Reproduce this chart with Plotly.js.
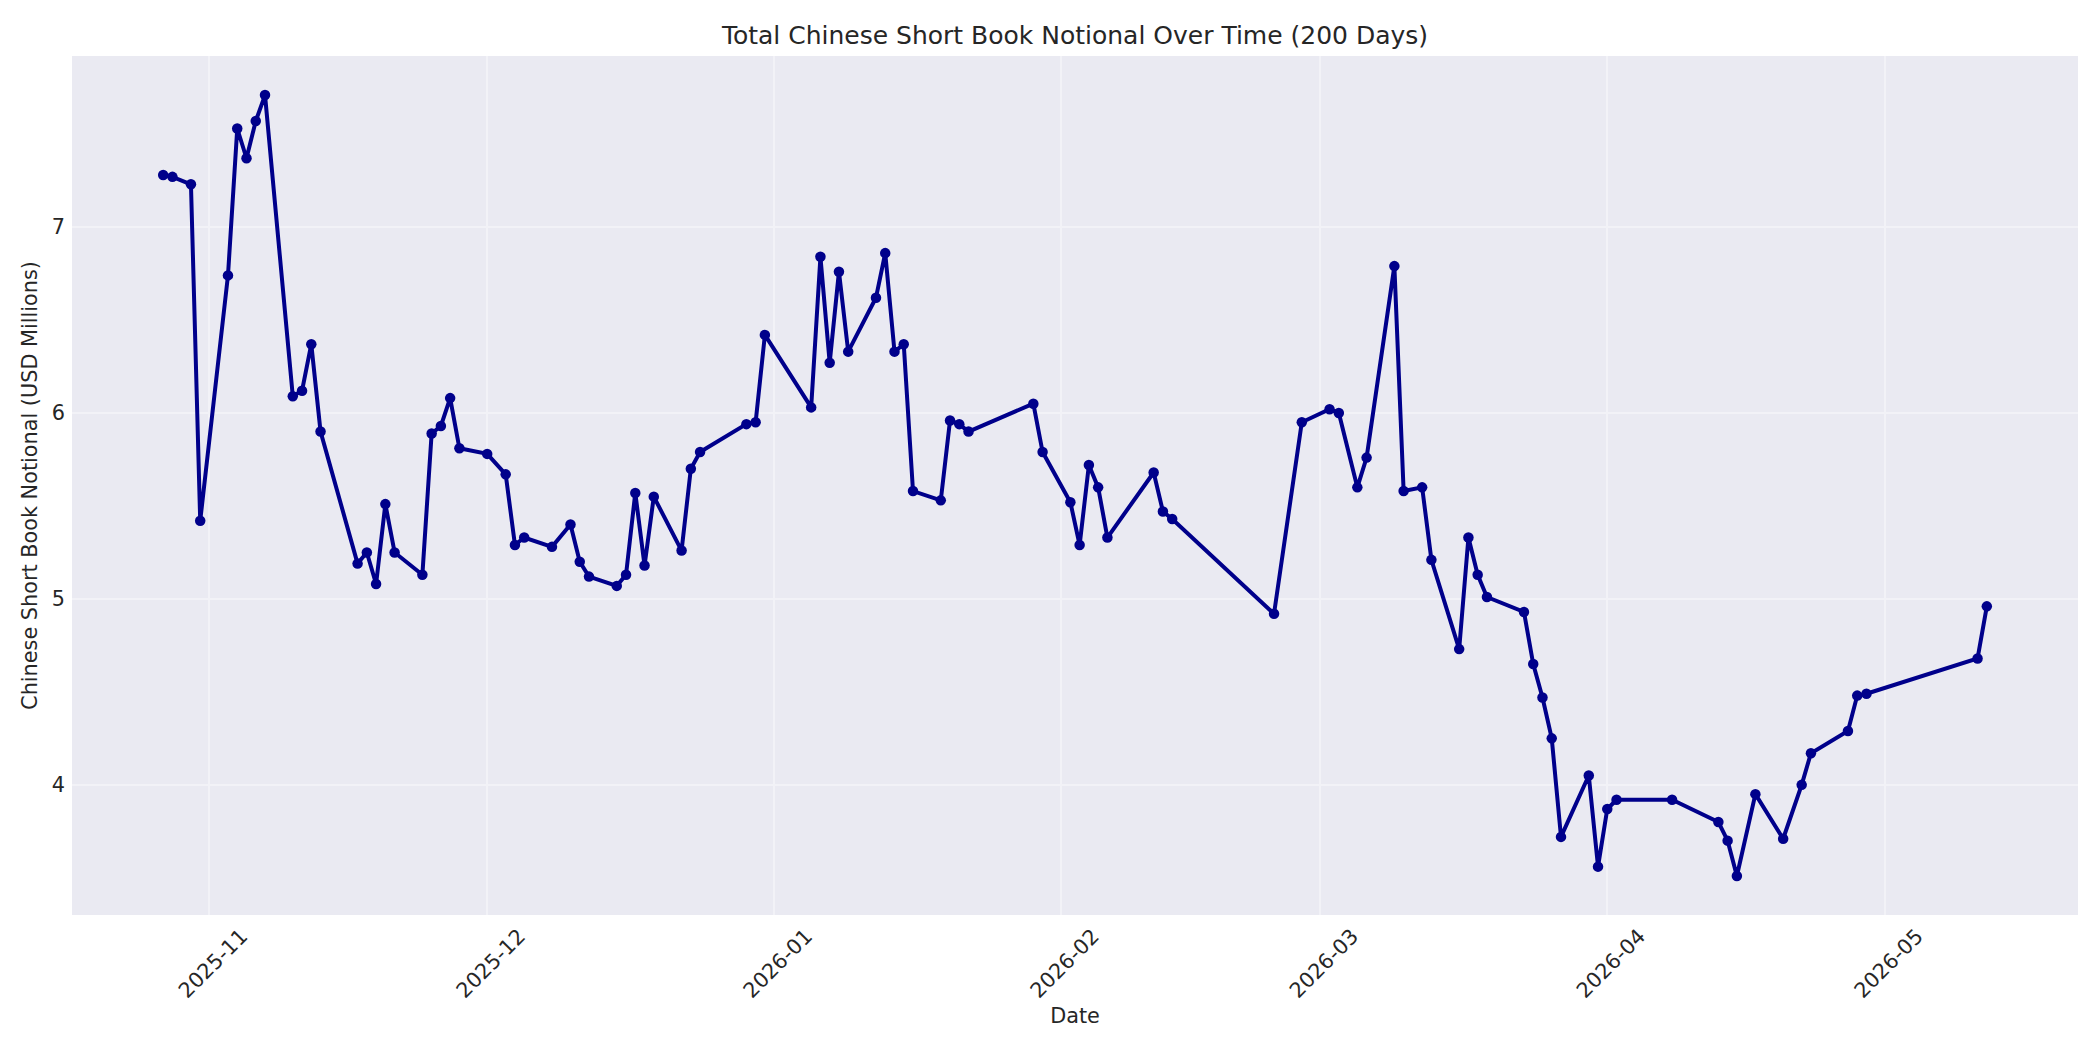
<!DOCTYPE html>
<html>
<head>
<meta charset="utf-8">
<script src="https://cdn.plot.ly/plotly-3.0.1.min.js"></script>
<style>html,body{margin:0;padding:0;background:#fff;}#chart{width:2100px;height:1050px;}</style>
</head>
<body>
<div id="chart"></div>
<script>
const dates = [
'2025-10-27','2025-10-28','2025-10-30','2025-10-31','2025-11-03','2025-11-04','2025-11-05','2025-11-06','2025-11-07',
'2025-11-10','2025-11-11','2025-11-12','2025-11-13','2025-11-17','2025-11-18','2025-11-19','2025-11-20','2025-11-21',
'2025-11-24','2025-11-25','2025-11-26','2025-11-27','2025-11-28','2025-12-01','2025-12-03','2025-12-04','2025-12-05',
'2025-12-08','2025-12-10','2025-12-11','2025-12-12','2025-12-15','2025-12-16','2025-12-17','2025-12-18','2025-12-19',
'2025-12-22','2025-12-23','2025-12-24','2025-12-29','2025-12-30','2025-12-31','2026-01-05','2026-01-06','2026-01-07',
'2026-01-08','2026-01-09','2026-01-12','2026-01-13','2026-01-14','2026-01-15','2026-01-16','2026-01-19','2026-01-20',
'2026-01-21','2026-01-22','2026-01-29','2026-01-30','2026-02-02','2026-02-03','2026-02-04','2026-02-05','2026-02-06',
'2026-02-11','2026-02-12','2026-02-13','2026-02-24','2026-02-27','2026-03-02','2026-03-03','2026-03-05','2026-03-06',
'2026-03-09','2026-03-10','2026-03-12','2026-03-13','2026-03-16','2026-03-17','2026-03-18','2026-03-19','2026-03-23',
'2026-03-24','2026-03-25','2026-03-26','2026-03-27','2026-03-30','2026-03-31','2026-04-01','2026-04-02','2026-04-08',
'2026-04-13','2026-04-14','2026-04-15','2026-04-17','2026-04-20','2026-04-22','2026-04-23','2026-04-27','2026-04-28',
'2026-04-29','2026-05-11','2026-05-12'
];
const notional = [
7.28,7.27,7.23,5.42,6.74,7.53,7.37,7.57,7.71,
6.09,6.12,6.37,5.90,5.19,5.25,5.08,5.51,5.25,
5.13,5.89,5.93,6.08,5.81,5.78,5.67,5.29,5.33,
5.28,5.40,5.20,5.12,5.07,5.13,5.57,5.18,5.55,
5.26,5.70,5.79,5.94,5.95,6.42,6.03,6.84,6.27,
6.76,6.33,6.62,6.86,6.33,6.37,5.58,5.53,5.96,
5.94,5.90,6.05,5.79,5.52,5.29,5.72,5.60,5.33,
5.68,5.47,5.43,4.92,5.95,6.02,6.00,5.60,5.76,
6.79,5.58,5.60,5.21,4.73,5.33,5.13,5.01,4.93,
4.65,4.47,4.25,3.72,4.05,3.56,3.87,3.92,3.92,
3.80,3.70,3.51,3.95,3.71,4.00,4.17,4.29,4.48,
4.49,4.68,4.96
];
const xTickVals = ['2025-11-01','2025-12-01','2026-01-01','2026-02-01','2026-03-01','2026-04-01','2026-05-01'];
const xTickText = ['2025-11','2025-12','2026-01','2026-02','2026-03','2026-04','2026-05'];
const yTickVals = [4,5,6,7];

const titleText = 'Total Chinese Short Book Notional Over Time (200 Days)';
const xTitle = 'Date';
const yTitle = 'Chinese Short Book Notional (USD Millions)';

const txt = '#262626';
const grid = '#F2F2F7';
const font = 'DejaVu Sans, Verdana, sans-serif';

const trace = {
  x: dates, y: notional, type: 'scatter', mode: 'lines+markers',
  line: {color: '#00008B', width: 4},
  marker: {color: '#00008B', size: 10.5},
  hoverinfo: 'skip'
};

const layout = {
  width: 2100, height: 1050,
  margin: {l: 72, r: 22, t: 56, b: 135, pad: 0},
  paper_bgcolor: '#FFFFFF', plot_bgcolor: '#EAEAF2',
  font: {family: font, color: txt, size: 20.8},
  showlegend: false,
  title: {text: titleText, font: {family: font, size: 25, color: txt}, x: 0.5, xref: 'paper', xanchor: 'center', y: 1 - 35/1050, yref: 'container', yanchor: 'middle'},
  xaxis: {
    type: 'date', range: ['2025-10-17 03:36', '2026-05-21 20:24'],
    tickmode: 'array', tickvals: xTickVals, ticktext: xTickText,
    tickangle: -45, ticklabelshift: 32, ticklabelstandoff: 4,
    ticks: '', showline: false, zeroline: false,
    showgrid: true, gridcolor: grid, gridwidth: 2,
    tickfont: {family: font, size: 20.8, color: txt},
    title: {text: xTitle, font: {family: font, size: 20.8, color: txt}, standoff: 6},
    automargin: false, fixedrange: true
  },
  yaxis: {
    range: [3.30, 7.92], tickmode: 'array', tickvals: yTickVals,
    ticks: '', showline: false, zeroline: false,
    showgrid: true, gridcolor: grid, gridwidth: 2,
    tickfont: {family: font, size: 20.8, color: txt},
    ticklabelstandoff: 6,
    title: {text: yTitle, font: {family: font, size: 20.8, color: txt}, standoff: 8},
    automargin: false, fixedrange: true
  }
};

Plotly.newPlot('chart', [trace], layout, {displayModeBar: false, staticPlot: true});
</script>
</body>
</html>
